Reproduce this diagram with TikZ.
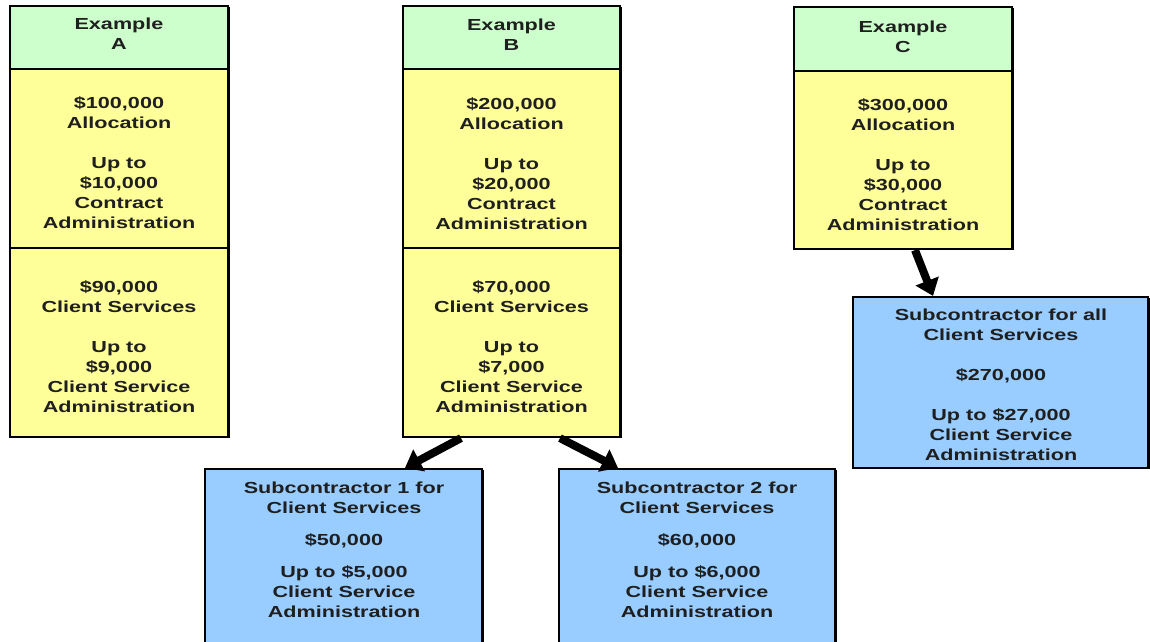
\documentclass[tikz,border=0pt]{standalone}
\usepackage{fontspec}
\setmainfont{Liberation Sans}[FakeStretch=1.35]
\usetikzlibrary{arrows.meta,shadows}
\definecolor{hdrgreen}{HTML}{CCFFCC}
\definecolor{midyellow}{HTML}{FFFF99}
\definecolor{subblue}{HTML}{99CCFF}
\newcommand\firststrut{\rule{0pt}{13pt}}
\begin{document}
\begin{tikzpicture}[x=1pt,y=-1pt,
  box/.style={draw=black, line width=2.2pt, inner sep=0pt,
    drop shadow={shadow xshift=2pt, shadow yshift=-1pt, fill=black, opacity=1}},
  hdr/.style={box, fill=hdrgreen},
  yel/.style={box, fill=midyellow},
  blu/.style={box, fill=subblue},
  txt/.style={anchor=north, align=center, inner sep=0pt,
    font=\bfseries\fontsize{16}{20}\selectfont, text=black!88},
  arr/.style={line width=8pt, -{Triangle[width=24pt,length=16pt]}}]
\useasboundingbox (0,0) rectangle (1150,641);
\clip (0,0) rectangle (1150,641);

% Column A
\node[hdr, minimum width=218pt, minimum height=63pt] (Ahead) at (119,37.5) {};
\node[yel, minimum width=218pt, minimum height=179pt] (Amid) at (119,158.5) {};
\node[yel, minimum width=218pt, minimum height=189pt] (Alow) at (119,342.5) {};
% Column B
\node[hdr, minimum width=217pt, minimum height=63pt] (Bhead) at (511.5,37.5) {};
\node[yel, minimum width=217pt, minimum height=179pt] (Bmid) at (511.5,158.5) {};
\node[yel, minimum width=217pt, minimum height=189pt] (Blow) at (511.5,342.5) {};
% Column C
\node[hdr, minimum width=218pt, minimum height=64pt] (Chead) at (903,39) {};
\node[yel, minimum width=218pt, minimum height=178pt] (Cmid) at (903,160) {};
% Subcontractors
\node[blu, minimum width=295pt, minimum height=171pt] (sC) at (1000.5,382.5) {};
\node[blu, minimum width=277pt, minimum height=191pt] (s1) at (343.5,564.5) {};
\node[blu, minimum width=276pt, minimum height=191pt] (s2) at (697,564.5) {};

% Texts
\node[txt] (tAh) at (119,16.75) {\firststrut Example\\A};
\node[txt] (tBh) at (511.5,17.25) {\firststrut Example\\B};
\node[txt] (tCh) at (903,19.25) {\firststrut Example\\C};

\node[txt] (tAm) at (119,95.75) {\firststrut\$100,000\\Allocation\\[20pt]Up to\\\$10,000\\Contract\\Administration};
\node[txt] (tBm) at (511.5,96.25) {\firststrut\$200,000\\Allocation\\[20pt]Up to\\\$20,000\\Contract\\Administration};
\node[txt] (tCm) at (903,97.75) {\firststrut\$300,000\\Allocation\\[20pt]Up to\\\$30,000\\Contract\\Administration};

\node[txt] (tAl) at (119,279.75) {\firststrut\$90,000\\Client Services\\[20pt]Up to\\\$9,000\\Client Service\\Administration};
\node[txt] (tBl) at (511.5,279.75) {\firststrut\$70,000\\Client Services\\[20pt]Up to\\\$7,000\\Client Service\\Administration};

\node[txt] (tsC) at (1001,307.75) {\firststrut Subcontractor for all\\Client Services\\[20pt]\$270,000\\[20pt]Up to \$27,000\\Client Service\\Administration};
\node[txt] (ts1) at (344,480.25) {\firststrut Subcontractor 1 for\\Client Services\\[12pt]\$50,000\\[12pt]Up to \$5,000\\Client Service\\Administration};
\node[txt] (ts2) at (697,480.25) {\firststrut Subcontractor 2 for\\Client Services\\[12pt]\$60,000\\[12pt]Up to \$6,000\\Client Service\\Administration};

% Arrows
\draw[arr] ([xshift=-50.5pt]Blow.south) -- ([xshift=61.5pt]s1.north);
\draw[arr] ([xshift=48.5pt]Blow.south) -- ([xshift=-79pt]s2.north);
\draw[arr] ([xshift=12pt]Cmid.south) -- ([xshift=-67.5pt]sC.north);
\end{tikzpicture}
\end{document}
